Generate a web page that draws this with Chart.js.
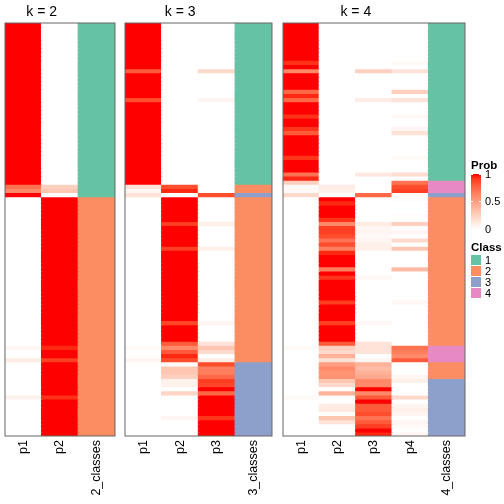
<!DOCTYPE html>
<html>
<head>
<meta charset="utf-8">
<script src="https://cdn.jsdelivr.net/npm/chart.js@4/dist/chart.umd.min.js"></script>
<style>
  html, body { margin: 0; padding: 0; background: #fff; }
  #wrap { position: relative; width: 504px; height: 504px; overflow: hidden; font-family: "Liberation Sans", Arial, sans-serif; }
  canvas { position: absolute; left: 0; top: 0; }
  .lg { position: absolute; font-size: 11px; line-height: 11px; color: #000; white-space: nowrap; }
  .lg.b { font-weight: bold; font-size: 11.5px; }
</style>
</head>
<body>
<div id="wrap">
  <canvas id="c2" width="504" height="504"></canvas>
  <canvas id="c3" width="504" height="504"></canvas>
  <canvas id="c4" width="504" height="504"></canvas>
  <div id="legend"></div>
</div>
<script>
const N = 100; // samples (rows), top to bottom

const classNames = ['1', '2', '3', '4'];
const classColors = ['#66C2A5', '#FC8D62', '#8DA0CB', '#E78AC3'];
const probTicks = [0, 0.5, 1];

// k = 2
const k2Labels = ['p1', 'p2', '2_classes'];
const k2P1 = [
  1,1,1,1,1,1,1,1,1,1,
  1,1,1,1,1,1,1,1,1,1,
  1,1,1,1,1,1,1,1,1,1,
  1,1,1,1,1,1,1,1,1,.7,
  .6,1,0,0,0,0,0,0,0,0,
  0,0,0,0,0,0,0,0,0,0,
  0,0,0,0,0,0,0,0,0,0,
  0,0,0,0,0,0,0,0,.04,0,
  0,.1,0,0,0,0,0,0,0,0,
  .07,0,0,0,0,0,0,0,0,0];
const k2P2 = [
  0,0,0,0,0,0,0,0,0,0,
  0,0,0,0,0,0,0,0,0,0,
  0,0,0,0,0,0,0,0,0,0,
  0,0,0,0,0,0,0,0,0,.25,
  .3,0,1,1,1,1,1,1,1,1,
  1,1,1,1,1,1,1,1,1,1,
  1,1,1,1,1,1,1,1,1,1,
  1,1,1,1,1,1,1,1,.95,1,
  1,.9,1,1,1,1,1,1,1,1,
  .93,1,1,1,1,1,1,1,1,1];
const k2Class = [
  1,1,1,1,1,1,1,1,1,1,
  1,1,1,1,1,1,1,1,1,1,
  1,1,1,1,1,1,1,1,1,1,
  1,1,1,1,1,1,1,1,1,1,
  1,1,2,2,2,2,2,2,2,2,
  2,2,2,2,2,2,2,2,2,2,
  2,2,2,2,2,2,2,2,2,2,
  2,2,2,2,2,2,2,2,2,2,
  2,2,2,2,2,2,2,2,2,2,
  2,2,2,2,2,2,2,2,2,2];

// k = 3
const k3Labels = ['p1', 'p2', 'p3', '3_classes'];
const k3P1 = [
  1,1,1,1,1,1,1,1,1,1,
  1,.8,1,1,1,1,1,1,.85,1,
  1,1,1,1,1,1,1,1,1,1,
  1,1,1,1,1,1,1,1,1,.15,
  .05,.15,0,0,0,0,0,0,0,0,
  0,0,0,0,0,0,0,0,0,0,
  0,0,0,0,0,0,0,0,0,0,
  0,0,0,0,0,0,0,0,.03,0,
  0,.05,0,0,0,0,0,0,0,0,
  0,0,0,0,0,0,0,0,0,0];
const k3P2 = [
  0,0,0,0,0,0,0,0,0,0,
  0,0,0,0,0,0,0,0,0,0,
  0,0,0,0,0,0,0,0,0,0,
  0,0,0,0,0,0,0,0,0,.85,
  .95,0,1,1,1,1,1,1,.9,1,
  1,1,1,1,.9,1,1,1,1,1,
  1,1,1,1,1,1,1,1,1,1,
  1,1,.88,1,1,1,1,.8,.6,.8,
  .95,.85,.02,.3,.3,.25,.07,.07,0,.22,
  0,0,0,0,0,.05,0,0,0,0];
const k3P3 = [
  0,0,0,0,0,0,0,0,0,0,
  0,.2,0,0,0,0,0,0,.05,0,
  0,0,0,0,0,0,0,0,0,0,
  0,0,0,0,0,0,0,0,0,0,
  0,.85,0,0,0,0,0,0,.08,0,
  0,0,0,0,.08,0,0,0,0,0,
  0,0,0,0,0,0,0,0,0,0,
  0,0,.05,0,0,0,0,.15,.3,.2,
  0,.1,.85,.65,.65,.75,.9,.88,1,.75,
  1,1,1,1,1,.92,1,1,1,1];
const k3Class = [
  1,1,1,1,1,1,1,1,1,1,
  1,1,1,1,1,1,1,1,1,1,
  1,1,1,1,1,1,1,1,1,1,
  1,1,1,1,1,1,1,1,1,2,
  2,3,2,2,2,2,2,2,2,2,
  2,2,2,2,2,2,2,2,2,2,
  2,2,2,2,2,2,2,2,2,2,
  2,2,2,2,2,2,2,2,2,2,
  2,2,3,3,3,3,3,3,3,3,
  3,3,3,3,3,3,3,3,3,3];

// k = 4
const k4Labels = ['p1', 'p2', 'p3', 'p4', '4_classes'];
const k4P1 = [
  1,1,1,1,1,1,1,1,1,.93,
  1,.6,1,1,1,1,.75,.95,.75,1,
  1,1,.93,1,1,.92,.8,1,1,1,
  1,1,.92,1,1,1,.7,.95,.25,.03,
  .03,.2,0,0,0,0,0,0,0,0,
  0,0,0,0,0,0,0,0,0,0,
  0,0,0,0,0,0,0,0,0,0,
  0,0,0,0,0,0,0,0,.03,0,
  0,0,0,0,0,0,0,0,0,0,
  .03,0,0,0,0,0,0,0,0,0];
const k4P2 = [
  0,0,0,0,0,0,0,0,0,0,
  0,0,0,0,0,0,0,0,0,0,
  0,0,0,0,0,0,0,0,0,0,
  0,0,0,0,0,0,0,0,0,.1,
  .08,0,1,.95,1,1,1,.93,.6,.9,
  .9,.85,.7,.85,.65,.95,1,1,1,.65,
  1,.92,1,1,1,1,1,.9,1,1,
  1,1,.9,1,1,1,1,.8,.25,.2,
  .4,.15,.5,.6,.55,.55,.3,.2,0,.4,
  0,0,.1,.12,0,.3,.15,0,0,0];
const k4P3 = [
  0,0,0,0,0,0,0,0,0,0,
  0,.25,0,0,0,0,0,0,.1,0,
  0,0,0,0,0,0,0,0,0,0,
  0,0,0,0,0,0,.12,0,0,0,
  0,.75,0,0,0,0,0,0,.1,.05,
  .05,.03,.05,.08,.08,0,0,0,0,0,
  0,.04,0,0,0,0,0,0,0,0,
  0,0,.04,0,0,0,0,.15,.15,.15,
  0,.05,.4,.35,.4,.45,.6,.6,1,.6,
  .8,1,.8,.8,.85,.7,.8,.9,1,.95];
const k4P4 = [
  0,0,0,0,0,0,0,0,0,.03,
  0,.15,0,0,0,0,.25,0,.15,0,
  0,0,.03,0,0,.05,.15,0,0,0,
  0,0,.03,0,0,0,.18,0,.7,.85,
  .9,.03,.02,0,0,0,.02,0,.25,0,
  .05,0,.2,0,.3,0,0,0,0,.35,
  0,0,0,0,0,0,0,.04,0,0,
  0,0,0,0,0,0,0,0,.7,.65,
  .6,.8,0,0,0,.05,.08,0,0,0,
  .2,0,.05,.08,.05,0,.05,.03,0,.05];
const k4Class = [
  1,1,1,1,1,1,1,1,1,1,
  1,1,1,1,1,1,1,1,1,1,
  1,1,1,1,1,1,1,1,1,1,
  1,1,1,1,1,1,1,1,4,4,
  4,3,2,2,2,2,2,2,2,2,
  2,2,2,2,2,2,2,2,2,2,
  2,2,2,2,2,2,2,2,2,2,
  2,2,2,2,2,2,2,2,4,4,
  4,4,2,2,2,2,3,3,3,3,
  3,3,3,3,3,3,3,3,3,3];

// white -> red, interpolated in Lab like colorRamp2
function toLin(c) { c /= 255; return c <= 0.04045 ? c / 12.92 : Math.pow((c + 0.055) / 1.055, 2.4); }
function fromLin(c) { c = c <= 0.0031308 ? 12.92 * c : 1.055 * Math.pow(c, 1 / 2.4) - 0.055; return Math.round(Math.min(1, Math.max(0, c)) * 255); }
function rgbToLab(r, g, b) {
  r = toLin(r); g = toLin(g); b = toLin(b);
  const X = (0.4124 * r + 0.3576 * g + 0.1805 * b) / 0.95047;
  const Y = 0.2126 * r + 0.7152 * g + 0.0722 * b;
  const Z = (0.0193 * r + 0.1192 * g + 0.9505 * b) / 1.08883;
  const f = t => t > 0.008856 ? Math.cbrt(t) : 7.787 * t + 16 / 116;
  const fx = f(X), fy = f(Y), fz = f(Z);
  return [116 * fy - 16, 500 * (fx - fy), 200 * (fy - fz)];
}
function labToRgb(L, a, b) {
  const fy = (L + 16) / 116, fx = fy + a / 500, fz = fy - b / 200;
  const inv = t => t * t * t > 0.008856 ? t * t * t : (t - 16 / 116) / 7.787;
  const X = inv(fx) * 0.95047, Y = inv(fy), Z = inv(fz) * 1.08883;
  const r = 3.2406 * X - 1.5372 * Y - 0.4986 * Z;
  const g = -0.9689 * X + 1.8758 * Y + 0.0415 * Z;
  const bb = 0.0557 * X - 0.2040 * Y + 1.0570 * Z;
  return 'rgb(' + fromLin(r) + ',' + fromLin(g) + ',' + fromLin(bb) + ')';
}
const LAB_W = rgbToLab(255, 255, 255);
const LAB_R = rgbToLab(255, 0, 0);
function probColor(p) {
  return labToRgb(LAB_W[0] + (LAB_R[0] - LAB_W[0]) * p, LAB_W[1] + (LAB_R[1] - LAB_W[1]) * p, LAB_W[2] + (LAB_R[2] - LAB_W[2]) * p);
}

const FONT = '"Liberation Sans", Arial, sans-serif';

// frame + title over the probability columns
const framePlugin = {
  id: 'frame',
  afterDraw(chart, args, opts) {
    const { ctx, chartArea: a } = chart;
    const w = (a.right - a.left) / opts.cols;
    ctx.save();
    ctx.strokeStyle = '#666';
    ctx.lineWidth = 1;
    ctx.strokeRect(a.left, a.top, a.right - a.left, a.bottom - a.top);
    ctx.fillStyle = '#000';
    ctx.font = '14px ' + FONT;
    ctx.textAlign = 'center';
    ctx.textBaseline = 'alphabetic';
    ctx.fillText(opts.title, a.left + w * (opts.cols - 1) / 2, 15.5);
    ctx.restore();
  }
};

function panel(id, labels, probs, cls, title, left, right) {
  const datasets = [];
  for (let r = 0; r < N; r++) {
    const colors = probs.map(p => probColor(p[r]));
    colors.push(classColors[cls[r] - 1]);
    datasets.push({
      data: labels.map(() => 1),
      backgroundColor: colors,
      borderWidth: 0,
      inflateAmount: 0.7,
      barPercentage: 1,
      categoryPercentage: 1
    });
  }
  new Chart(document.getElementById(id), {
    type: 'bar',
    data: { labels, datasets },
    options: {
      responsive: false,
      animation: false,
      layout: { padding: { top: 23, left: left, right: 504 - right, bottom: 0 } },
      plugins: {
        legend: { display: false },
        tooltip: { enabled: false },
        frame: { title, cols: labels.length }
      },
      scales: {
        x: {
          stacked: true,
          grid: { display: false, drawTicks: false },
          border: { display: false },
          ticks: { autoSkip: false, minRotation: 90, maxRotation: 90, padding: 4, color: '#000', font: { family: FONT, size: 12.5 } },
          afterFit: s => { s.height = 68; }
        },
        y: { stacked: true, display: false, min: 0, max: N, reverse: true }
      }
    },
    plugins: [framePlugin]
  });
}

panel('c2', k2Labels, [k2P1, k2P2], k2Class, 'k = 2', 5, 115);
panel('c3', k3Labels, [k3P1, k3P2, k3P3], k3Class, 'k = 3', 125, 272);
panel('c4', k4Labels, [k4P1, k4P2, k4P3, k4P4], k4Class, 'k = 4', 283, 465);

// legends
const lg = document.getElementById('legend');
function add(html, css, cls) {
  const d = document.createElement('div');
  d.className = cls || 'lg';
  d.innerHTML = html;
  d.style.cssText = css;
  lg.appendChild(d);
  return d;
}
add('Prob', 'left:471px;top:160px;', 'lg b');
const gTop = 174, gBot = 229;
const stops = [];
for (let i = 0; i <= 10; i++) stops.push(probColor(1 - i / 10) + ' ' + (i * 10) + '%');
add('', 'left:471px;top:' + gTop + 'px;width:10px;height:' + (gBot - gTop) + 'px;background:linear-gradient(to bottom,' + stops.join(',') + ');');
probTicks.forEach(t => {
  const y = gBot - (gBot - gTop) * t;
  add('', 'left:471px;top:' + (y - 0.5) + 'px;width:2px;height:1px;background:#fff;');
  add('', 'left:479px;top:' + (y - 0.5) + 'px;width:2px;height:1px;background:#fff;');
  add(String(t), 'left:485px;top:' + (y - 5.5) + 'px;');
});
add('Class', 'left:471px;top:242px;', 'lg b');
classNames.forEach((n, i) => {
  const y = 255 + i * 11;
  add('', 'left:471px;top:' + y + 'px;width:10px;height:10px;background:' + classColors[i] + ';');
  add(n, 'left:485px;top:' + (y + 0) + 'px;');
});
</script>
</body>
</html>
